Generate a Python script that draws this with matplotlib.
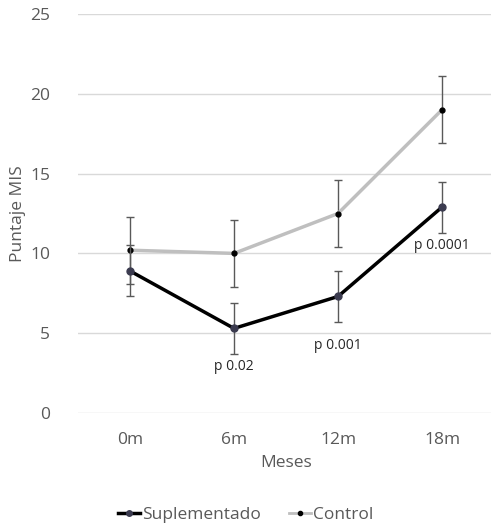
import matplotlib.pyplot as plt
from matplotlib.lines import Line2D
import numpy as np

plt.rcParams['font.family'] = ['Open Sans', 'DejaVu Sans']

meses = ['0m', '6m', '12m', '18m']
suplementado = [8.9, 5.3, 7.3, 12.9]
suplementado_err = [1.6, 1.6, 1.6, 1.6]
control = [10.2, 10.0, 12.5, 19.0]
control_err = [2.1, 2.1, 2.1, 2.1]
p_labels = ['', 'p 0.02', 'p 0.001', 'p 0.0001']
p_y = [None, 2.9, 4.2, 10.5]

x = np.arange(len(meses))
gris = '#595959'

fig = plt.figure(figsize=(4.91, 5.29), dpi=100)
ax = fig.add_axes([78 / 491, 116 / 529, 416 / 491, 399 / 529])

# series de control (gris) y suplementado (negro) con barras de error
ax.errorbar(x, control, yerr=control_err, color='#bfbfbf', lw=2.5,
            marker='o', ms=3.5, mfc='black', mec='black',
            ecolor=gris, elinewidth=1, capsize=3, capthick=1, zorder=3)
ax.errorbar(x, suplementado, yerr=suplementado_err, color='black', lw=2.5,
            marker='o', ms=5, mfc='#3b3b4f', mec='#3b3b4f',
            ecolor=gris, elinewidth=1, capsize=3, capthick=1, zorder=4)

for xi, txt, yi in zip(x, p_labels, p_y):
    if txt:
        ax.text(xi, yi, txt, ha='center', va='center', fontsize=10, color='#262626')

ax.set_xlim(-0.5, 3.5)
ax.set_ylim(0, 25)
ax.set_yticks([0, 5, 10, 15, 20, 25])
ax.set_xticks(x)
ax.set_xticklabels(meses)
ax.yaxis.grid(True, color='#d9d9d9', lw=1)
ax.set_axisbelow(True)
for s in ax.spines.values():
    s.set_visible(False)
ax.tick_params(length=0, labelsize=12.5, colors=gris, pad=14)
ax.tick_params(axis='y', pad=20)
ax.set_xlabel('Meses', fontsize=12.5, color=gris, labelpad=5)
ax.set_ylabel('Puntaje MIS', fontsize=12.5, color=gris, labelpad=3)

handles = [
    Line2D([], [], color='black', lw=2.5, marker='o', ms=4,
           mfc='#3b3b4f', mec='#3b3b4f'),
    Line2D([], [], color='#bfbfbf', lw=2, marker='o', ms=3,
           mfc='black', mec='black'),
]
fig.legend(handles, ['Suplementado', 'Control'], loc='center',
           bbox_to_anchor=(0.5, 14 / 529), ncol=2, frameon=False,
           fontsize=12.5, labelcolor=gris, handlelength=1.3,
           handletextpad=0.1, columnspacing=1.6)

fig.savefig('out.png', dpi=100)
